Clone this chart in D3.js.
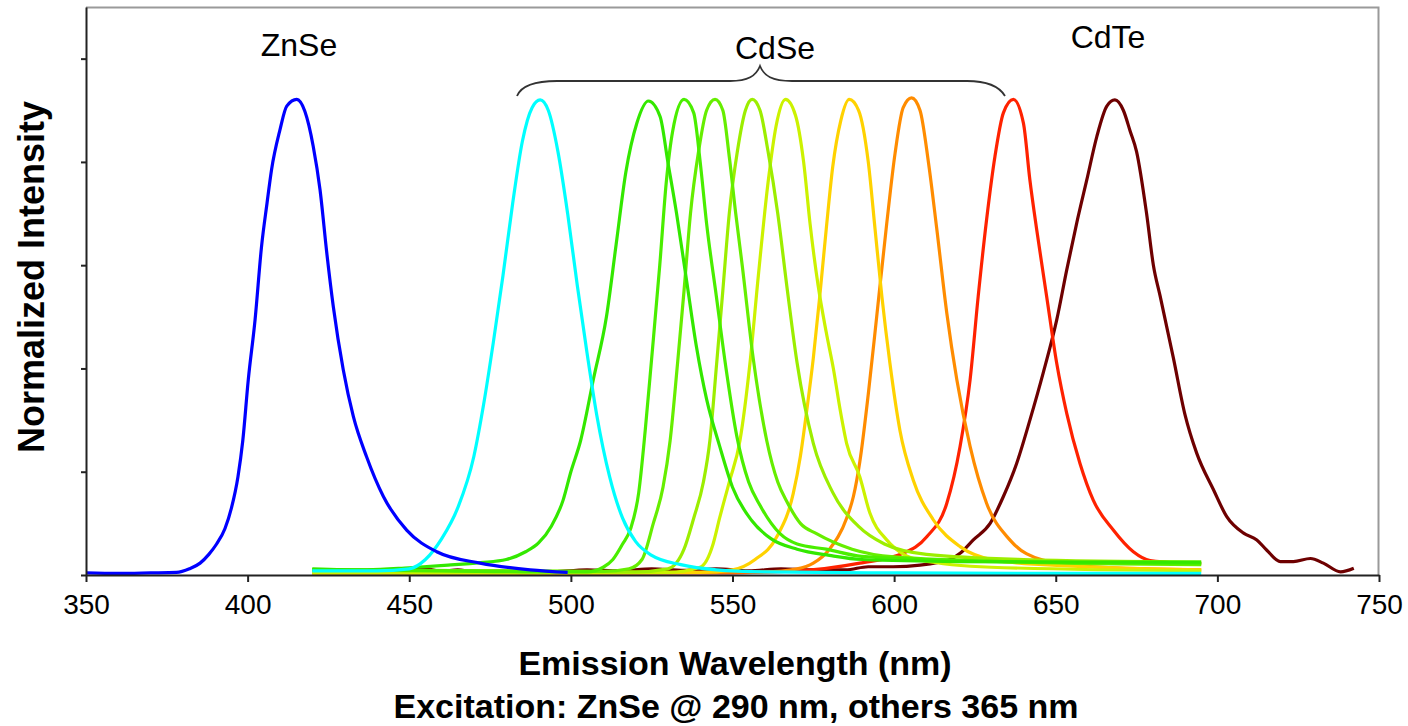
<!DOCTYPE html>
<html>
<head>
<meta charset="utf-8">
<script src="https://cdn.jsdelivr.net/npm/d3@7"></script>
<style>
  body { margin: 0; background: #fff; }
  text { font-family: "Liberation Sans", Arial, sans-serif; fill: #000; }
  .tick text { font-size: 28px; }
  .axis-title { font-size: 34px; font-weight: bold; }
  .y-title { font-size: 36px; font-weight: bold; }
  .dot-label { font-size: 32px; }
</style>
</head>
<body>
<div id="chart"></div>
<script>
// wavelength (nm), normalized intensity
var znse = [[350,.004],[360,.003],[370,.004],[378,.005],[382,.012],[385.3,.023],[388,.04],[390.4,.06],[393,.09],[395,.13],[397,.19],[398.5,.26],[400.2,.378],[402.3,.494],[404.3,.636],[406,.72],[407.4,.785],[410,.862],[412.1,.908],[415.2,.921],[417.7,.898],[420.3,.83],[422.4,.746],[424.5,.623],[426.5,.52],[429.6,.397],[432.7,.307],[436.8,.229],[442,.152],[449.2,.087],[458.5,.045],[471.9,.023],[487.4,.01],[499,.005]];

var cdse490 = [[420,.008],[440,.008],[450,.012],[455,.03],[460,.07],[465,.13],[470,.23],[473,.33],[476,.45],[479,.58],[482,.72],[485,.84],[488,.905],[490.5,.92],[493,.9],[496,.82],[499,.7],[502,.56],[505,.43],[508,.31],[512,.19],[516,.11],[520,.065],[525,.038],[534,.02],[545,.01],[560,.006],[600,.004],[650,.003],[695,.003]];

var cdse524 = [[420,.012],[437,.01],[450,.014],[462,.019],[472,.024],[480,.03],[486,.045],[490,.062],[494,.095],[497.6,.145],[500,.2],[503,.26],[507,.38],[511,.5],[514,.64],[517,.78],[520.4,.875],[524,.918],[527.6,.888],[530,.8],[532.7,.7],[535.8,.57],[538.9,.44],[542,.34],[546,.25],[550,.17],[556,.105],[562,.07],[570,.05],[580,.038],[590,.03],[620,.026],[660,.025],[695,.025]];

var cdse535 = [[420,.01],[460,.008],[490,.006],[505,.006],[510,.015],[513,.03],[516,.06],[518.5,.09],[521,.16],[523,.28],[525,.42],[527.5,.6],[529.5,.76],[531.5,.86],[535,.921],[538,.895],[540,.8],[542,.68],[545,.54],[548,.4],[551.3,.27],[555,.18],[558.5,.135],[564.7,.08],[570,.06],[579,.05],[590,.036],[620,.028],[660,.024],[695,.022]];

var cdse545 = [[420,.01],[480,.008],[510,.007],[518,.012],[522,.03],[525.5,.1],[528.5,.17],[530.7,.26],[533,.41],[535,.55],[537,.7],[539.5,.82],[542,.9],[544.6,.921],[547,.9],[549,.81],[551,.7],[553,.6],[556.4,.42],[560.6,.26],[564,.18],[567,.14],[571,.1],[576,.08],[587,.05],[600,.035],[640,.025],[695,.02]];

var cdse556 = [[420,.01],[480,.008],[520,.006],[530,.012],[535,.05],[538,.11],[541,.18],[543,.26],[545.1,.41],[547,.55],[549,.7],[551.5,.82],[554,.9],[556.1,.921],[558.5,.9],[561,.82],[564,.7],[567,.55],[570,.41],[575,.255],[581,.16],[589,.094],[597,.06],[610,.04],[640,.03],[695,.025]];

var cdse566 = [[420,.004],[480,.004],[530,.005],[540,.015],[544,.06],[546,.11],[549,.18],[552.3,.26],[555.4,.41],[558,.58],[561,.76],[563.5,.87],[566.4,.921],[569.5,.89],[572,.8],[574,.68],[576.5,.56],[579,.47],[581.2,.4],[583.3,.32],[585.3,.255],[589.4,.19],[592.5,.12],[597.7,.068],[603,.04],[608,.029],[630,.015],[695,.008]];

var cdse586 = [[420,.004],[500,.004],[540,.005],[550,.01],[557,.03],[563.7,.074],[568.8,.158],[571,.23],[573,.32],[575,.42],[577,.54],[579,.67],[581,.79],[583.5,.88],[586.1,.921],[589,.9],[592,.8],[594.1,.67],[596.2,.54],[598.7,.41],[601.8,.28],[605.9,.184],[612.1,.107],[620.4,.055],[630.7,.029],[646,.02],[695,.01]];

var cdse605 = [[420,.004],[520,.004],[560,.006],[570,.012],[575,.023],[580,.05],[585.3,.11],[587.4,.152],[589.4,.22],[592,.35],[594.6,.5],[597.7,.68],[600.3,.817],[602.8,.905],[605.4,.924],[608,.9],[610.6,.8],[613.2,.67],[616.3,.507],[619.4,.378],[623.5,.249],[628.6,.139],[635.8,.068],[646,.029],[661.6,.016],[695,.01]];

var cdse637 = [[420,.004],[540,.004],[570,.008],[589.4,.023],[602.8,.042],[610.1,.074],[616.3,.139],[620.4,.249],[623.5,.378],[626,.539],[628.6,.688],[631.2,.811],[633.8,.895],[636.9,.921],[640,.875],[642,.765],[644.1,.669],[647.2,.539],[650.3,.41],[653.4,.313],[657.5,.216],[661.6,.145],[667.8,.087],[674,.045],[679.2,.028],[689.5,.023],[695,.022]];

var cdte = [[450,.01],[455,.012],[460,.007],[465,.01],[470,.006],[478,.008],[485,.004],[495,.006],[505,.01],[515,.008],[525,.012],[535,.009],[545,.012],[555,.008],[565,.012],[575,.01],[585,.01],[592,.016],[599.7,.016],[608,.019],[614,.025],[617.3,.03],[620.4,.042],[624.5,.068],[629.7,.1],[633.8,.152],[637.9,.216],[642,.3],[646.1,.391],[650.3,.494],[653.4,.591],[656.5,.682],[659.6,.765],[662.7,.849],[665.8,.908],[668.3,.92],[670.9,.9],[673,.86],[675,.82],[678.1,.7],[680.2,.6],[682.3,.54],[686.4,.42],[690,.31],[693.6,.236],[698.8,.165],[702.9,.113],[708.1,.081],[712.2,.068],[715.3,.048],[719.5,.026],[723.5,.026],[728.8,.032],[732.8,.023],[738.1,.006],[742.2,.013]];

// drawing order: last one ends on top
var seriesList = [cdte, cdse637, cdse605, cdse586, cdse566, cdse556, cdse545, cdse535, cdse524, cdse490, znse];
var seriesColors = ["#6e0000", "#ff2200", "#ff8c00", "#ffd200", "#ccf200", "#9cee00", "#66ee00", "#4aee00", "#33e800", "#00ffff", "#0000ff"];

var xTicks = [350, 400, 450, 500, 550, 600, 650, 700, 750];
var yTicks = [0, 0.2, 0.4, 0.6, 0.8, 1.0];

var svgWidth = 1408;
var svgHeight = 726;

var margin = {
  top: 7,
  right: 29,
  bottom: 151,
  left: 86
};

var width = svgWidth - margin.left - margin.right;
var height = svgHeight - margin.top - margin.bottom;

var svg = d3.select("#chart")
  .append("svg")
  .attr("width", svgWidth)
  .attr("height", svgHeight);

var chartGroup = svg.append("g")
  .attr("transform", `translate(${margin.left}, ${margin.top})`);

var xScale = d3.scaleLinear()
  .domain([350, 750])
  .range([0, width]);

var yScale = d3.scaleLinear()
  .domain([0, 1.1])
  .range([height, 0]);

// gray frame on top and right
chartGroup.append("path")
  .attr("d", `M0,0.5H${width - 0.5}V${height}`)
  .attr("fill", "none")
  .attr("stroke", "#9a9a9a")
  .attr("stroke-width", 2);

// spectra
var line = d3.line()
  .x(d => xScale(d[0]))
  .y(d => yScale(d[1]))
  .curve(d3.curveMonotoneX);

chartGroup.append("g")
  .selectAll("path")
  .data(seriesList)
  .enter()
  .append("path")
  .attr("d", line)
  .attr("fill", "none")
  .attr("stroke", (d, i) => seriesColors[i])
  .attr("stroke-width", 3.2)
  .attr("stroke-linejoin", "round");

// axes
var bottomAxis = d3.axisBottom(xScale)
  .tickValues(xTicks)
  .tickSize(7)
  .tickSizeOuter(0)
  .tickPadding(12);

var leftAxis = d3.axisLeft(yScale)
  .tickValues(yTicks)
  .tickSize(5)
  .tickSizeOuter(0)
  .tickFormat("");

var xAxis = chartGroup.append("g")
  .attr("transform", `translate(0, ${height})`)
  .call(bottomAxis);

var yAxis = chartGroup.append("g")
  .call(leftAxis);

xAxis.select(".domain").attr("stroke", "#222").attr("stroke-width", 2);
yAxis.select(".domain").attr("stroke", "#222").attr("stroke-width", 2);
xAxis.selectAll(".tick line").attr("stroke", "#222").attr("stroke-width", 2);
yAxis.selectAll(".tick line").attr("stroke", "#222").attr("stroke-width", 2);
xAxis.selectAll(".tick text").attr("fill", "#000");

// axis titles
svg.append("text")
  .attr("class", "axis-title")
  .attr("x", 735)
  .attr("y", 675)
  .attr("text-anchor", "middle")
  .text("Emission Wavelength (nm)");

svg.append("text")
  .attr("class", "axis-title")
  .attr("x", 736)
  .attr("y", 718)
  .attr("text-anchor", "middle")
  .text("Excitation: ZnSe @ 290 nm, others 365 nm");

svg.append("text")
  .attr("class", "y-title")
  .attr("transform", "translate(44, 277) rotate(-90)")
  .attr("text-anchor", "middle")
  .text("Normalized Intensity");

// labels above the peaks
svg.append("text")
  .attr("class", "dot-label")
  .attr("x", 299)
  .attr("y", 56)
  .attr("text-anchor", "middle")
  .text("ZnSe");

svg.append("text")
  .attr("class", "dot-label")
  .attr("x", 775)
  .attr("y", 59)
  .attr("text-anchor", "middle")
  .text("CdSe");

svg.append("text")
  .attr("class", "dot-label")
  .attr("x", 1108)
  .attr("y", 48)
  .attr("text-anchor", "middle")
  .text("CdTe");

// curly brace over the CdSe peaks
svg.append("path")
  .attr("d", "M517,96 C522,84 538,81 557,81 L730,81 C748,81 756,76 760,66 C764,76 772,81 792,81 L967,81 C986,81 999,86 1005,96")
  .attr("fill", "none")
  .attr("stroke", "#333")
  .attr("stroke-width", 1.8);
</script>
</body>
</html>
